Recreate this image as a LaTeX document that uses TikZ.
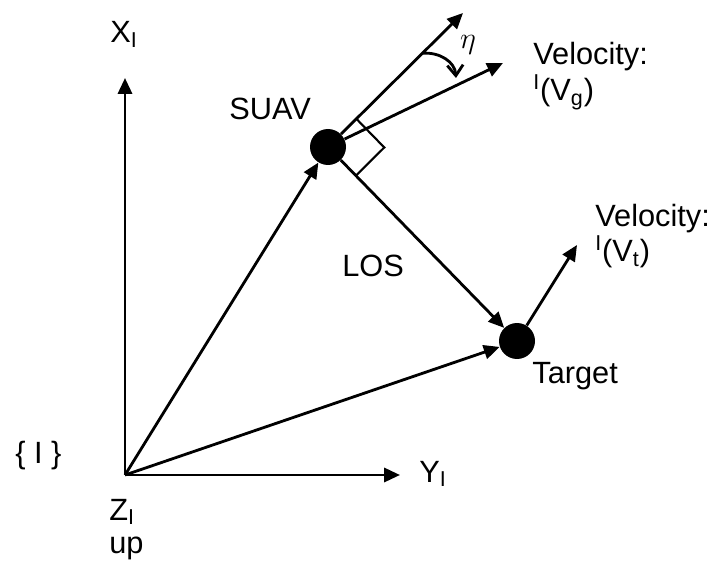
\documentclass[tikz,border=0pt]{standalone}
\usepackage{fontspec}
\setmainfont{Liberation Sans}
\usetikzlibrary{arrows.meta,calc}

\begin{document}
\begin{tikzpicture}[x=0.02cm,y=-0.02cm,>={Triangle[length=9pt,width=8pt]},
  vec/.style={->,line width=1.6pt},
  body/.style={circle,fill=black,minimum size=0.72cm,inner sep=0pt},
  lbl/.style={anchor=base west,inner sep=0pt,font=\fontsize{17.5}{21}\selectfont}]
\useasboundingbox (0,0) rectangle (716,563);

\coordinate (O) at (125,475);
\coordinate (Xtip) at (125,78);
\coordinate (Ytip) at (400,475);
\node[body] (suav) at (328,147) {};
\node[body] (target) at (517,341) {};
\coordinate (head) at (463,13);
\coordinate (vg) at (503,63);
\coordinate (vt) at (577,245);

% axes
\draw[vec] (O) -- (Xtip);
\draw[vec] (O) -- (Ytip);
% position vectors and LOS
\draw[vec] (O) -- (suav);
\draw[vec] (O) -- (target);
\draw[vec] (suav) -- (target);
% velocities
\draw[vec] (suav) -- (head);
\draw[vec] (suav) -- (vg);
\draw[vec] (target) -- (vt);

% right angle between heading and LOS
\coordinate (ra1) at ($(suav.center)!0.8cm!(head)$);
\coordinate (ra2) at ($(suav.center)!0.8cm!(target.center)$);
\coordinate (ra3) at ($(ra1)+(ra2)-(suav.center)$);
\draw[line width=1.2pt] (ra1) -- (ra3) -- (ra2);

% angle eta
\coordinate (arcstart) at ($(suav.center)!0.7!(head)$);
\coordinate (arcend) at (456,78);
\draw[line width=1.6pt,-{Straight Barb[length=6pt,width=9pt]}] (arcstart) .. controls (440,52) and (455,62) .. (arcend);
\node[font=\fontsize{18}{21}\selectfont] (eta) at (468,45) {$\eta$};

\node[lbl] (xlbl) at (110,43) {X\textsubscript{I}};
\node[lbl] (ylbl) at (419,482) {Y\textsubscript{I}};
\node[lbl] (zlbl) at (109,520) {Z\textsubscript{I}};
\node[lbl] (uplbl) at (109,553) {up};
\node[lbl] (frame) at (15,463) {\{ I \}};
\node[lbl] (suavlbl) at (229,120) {SUAV};
\node[lbl] (loslbl) at (342,277) {LOS};
\node[lbl] (targetlbl) at (532,383) {Target};
\node[lbl] (vglbl) at (533,65) {Velocity:};
\node[lbl] (vglbl2) at (533,101) {\textsuperscript{I}(V\textsubscript{g})};
\node[lbl] (vtlbl) at (595,227) {Velocity:};
\node[lbl] (vtlbl2) at (595,262) {\textsuperscript{I}(V\textsubscript{t})};
\end{tikzpicture}
\end{document}
